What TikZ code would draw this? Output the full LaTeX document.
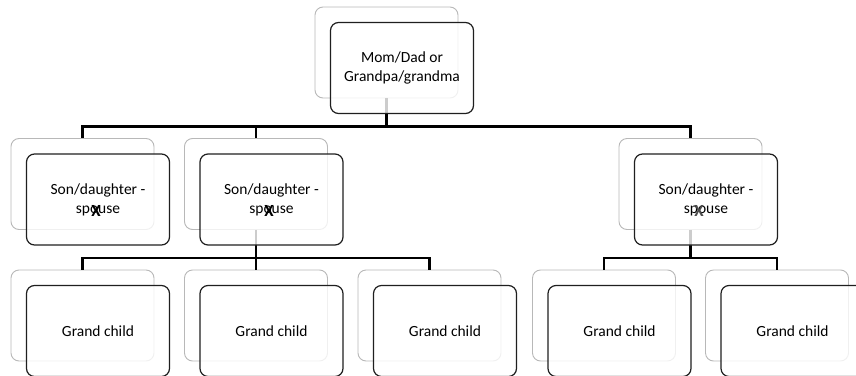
\documentclass[tikz,border=0pt]{standalone}
\usepackage{fontspec}
\setmainfont{Carlito}
\begin{document}
\begin{tikzpicture}[x=1pt,y=-1pt,
  backbox/.style={draw=black!28,line width=0.9pt,fill=white,rounded corners=8pt,
    minimum width=143pt,minimum height=91pt,inner sep=0pt},
  frontbox/.style={draw=black!88,line width=1.2pt,fill=white,fill opacity=0.8,text opacity=1,
    rounded corners=8pt,minimum width=143pt,minimum height=91pt,inner sep=0pt,
    align=center,font=\fontsize{15.5}{19}\selectfont},
  conn/.style={draw=black,line width=2.2pt},
  cross/.style={font=\bfseries\fontsize{17}{17}\selectfont,inner sep=0pt}]
\useasboundingbox (0,0) rectangle (856,375);
\clip (0,0) rectangle (856,375);
% back boxes
\node[backbox] (p-b)  at (386.5,52.5) {};
\node[backbox] (s1-b) at (82.5,184) {};
\node[backbox] (s2-b) at (256,184) {};
\node[backbox] (s3-b) at (690.5,184) {};
\node[backbox] (g1-b) at (82.5,315.5) {};
\node[backbox] (g2-b) at (256,315.5) {};
\node[backbox] (g3-b) at (429.5,315.5) {};
\node[backbox] (g4-b) at (604,315.5) {};
\node[backbox] (g5-b) at (777,315.5) {};
% connectors
\draw[conn] (p-b.south) -- ++(0,28) -| (s1-b.north);
\draw[conn] (p-b.south) -- ++(0,28) -| (s2-b.north);
\draw[conn] (p-b.south) -- ++(0,28) -| (s3-b.north);
\draw[conn] (s2-b.south) -- ++(0,28) -| (g1-b.north);
\draw[conn] (s2-b.south) -- ++(0,28) -| (g2-b.north);
\draw[conn] (s2-b.south) -- ++(0,28) -| (g3-b.north);
\draw[conn] (s3-b.south) -- ++(0,28) -| (g4-b.north);
\draw[conn] (s3-b.south) -- ++(0,28) -| (g5-b.north);
% front boxes
\node[frontbox] (p)  at ([shift={(15.5,15.5)}]p-b.center)  {Mom/Dad or\\Grandpa/grandma};
\node[frontbox] (s1) at ([shift={(15.5,15.5)}]s1-b.center) {Son/daughter -\\spouse};
\node[frontbox] (s2) at ([shift={(15.5,15.5)}]s2-b.center) {Son/daughter -\\spouse};
\node[frontbox] (s3) at ([shift={(15.5,15.5)}]s3-b.center) {Son/daughter -\\spouse};
\node[frontbox] (g1) at ([shift={(15.5,15.5)}]g1-b.center) {Grand child};
\node[frontbox] (g2) at ([shift={(15.5,15.5)}]g2-b.center) {Grand child};
\node[frontbox] (g3) at ([shift={(15.5,15.5)}]g3-b.center) {Grand child};
\node[frontbox] (g4) at ([shift={(15.5,15.5)}]g4-b.center) {Grand child};
\node[frontbox] (g5) at ([shift={(15.5,15.5)}]g5-b.center) {Grand child};
% crosses
\node[cross] (x1) at ([shift={(-2,11)}]s1.center) {X};
\node[cross] (x2) at ([shift={(-2.5,11)}]s2.center) {X};
\node[cross,text=black!70] (x3) at ([shift={(-7,11)}]s3.center) {X};
\end{tikzpicture}
\end{document}
